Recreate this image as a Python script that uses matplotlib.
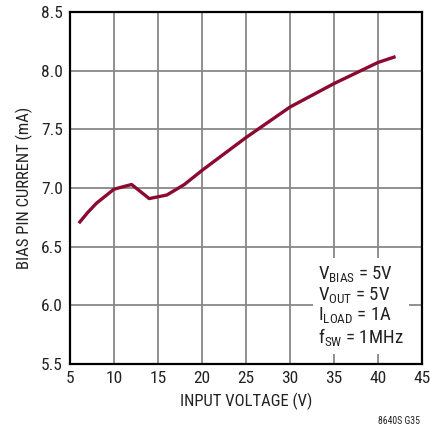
import matplotlib
matplotlib.use("Agg")
import matplotlib.pyplot as plt

FONT = ['Roboto Condensed', 'Liberation Sans', 'DejaVu Sans']
plt.rcParams['font.family'] = FONT
plt.rcParams['mathtext.fontset'] = 'custom'
plt.rcParams['mathtext.rm'] = 'Roboto Condensed'
plt.rcParams['mathtext.it'] = 'Roboto Condensed'

# bias pin current vs input voltage
vin = [6, 7, 8, 10, 12, 14, 16, 18, 20, 25, 30, 35, 40, 42]
ibias = [6.70, 6.79, 6.87, 6.99, 7.03, 6.91, 6.94, 7.03, 7.15, 7.43, 7.69, 7.89, 8.07, 8.12]

xticks = [5, 10, 15, 20, 25, 30, 35, 40, 45]
yticks = [5.5, 6.0, 6.5, 7.0, 7.5, 8.0, 8.5]

fig = plt.figure(figsize=(4.31, 4.32), dpi=100)
ax = fig.add_axes([0.1624, 0.1574, 0.8167, 0.8148])

ax.plot(vin, ibias, color='#8c0a30', lw=2.4, solid_capstyle='butt', zorder=3)

ax.set_xlim(5, 45)
ax.set_ylim(5.5, 8.5)
ax.set_xticks(xticks)
ax.set_yticks(yticks)
ax.set_yticklabels(['%.1f' % v for v in yticks])
ax.tick_params(length=0, labelsize=12.5, pad=5, colors='#222222')
ax.grid(True, color='#888888', lw=1.3)
for s in ax.spines.values():
    s.set_linewidth(1.6)
    s.set_color('black')

ax.set_xlabel('INPUT VOLTAGE (V)', fontsize=12, labelpad=5, color='#222222')
ax.set_ylabel('BIAS PIN CURRENT (mA)', fontsize=12, labelpad=6, color='#222222')

ax.text(0.705, 0.045,
        'V$_{\\mathrm{BIAS}}$ = 5V\nV$_{\\mathrm{OUT}}$ = 5V\nI$_{\\mathrm{LOAD}}$ = 1A\nf$_{\\mathrm{SW}}$ = 1MHz',
        transform=ax.transAxes, ha='left', va='bottom', fontsize=13.5,
        linespacing=1.05, color='#222222', zorder=4,
        bbox=dict(boxstyle='square,pad=0.3', fc='white', ec='none'))

fig.text(0.975, 0.015, '8640S G35', ha='right', va='bottom', fontsize=7, color='#222222')

fig.savefig('out.png', dpi=100)
